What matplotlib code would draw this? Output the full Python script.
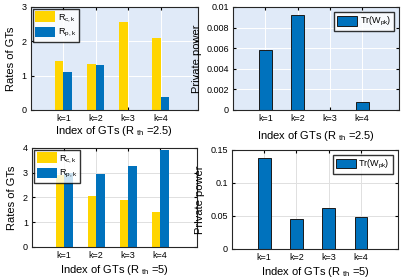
import numpy as np
import matplotlib.pyplot as plt

plt.rcParams['font.family'] = ['Liberation Sans', 'DejaVu Sans']
plt.rcParams['mathtext.default'] = 'regular'

# data
ks = [1, 2, 3, 4]
k_labels = ['k=1', 'k=2', 'k=3', 'k=4']

rc_25 = [1.43, 1.35, 2.55, 2.11]
rp_25 = [1.10, 1.30, 0.0, 0.38]
pw_25 = [0.0058, 0.0092, 0.0, 0.0008]

rc_5 = [2.9, 2.07, 1.90, 1.40]
rp_5 = [3.0, 2.95, 3.25, 3.90]
pw_5 = [0.137, 0.045, 0.062, 0.048]

yellow = '#FFD500'
blue = '#0072BD'
light_bg = '#e0eaf8'

fig = plt.figure(figsize=(4.07, 2.79), dpi=100)
ax1 = fig.add_axes([0.076, 0.606, 0.41, 0.369])
ax2 = fig.add_axes([0.573, 0.606, 0.408, 0.369])
ax3 = fig.add_axes([0.079, 0.115, 0.405, 0.355])
ax4 = fig.add_axes([0.570, 0.108, 0.408, 0.355])

x = np.array(ks)
w = 0.27


def style(ax, bg, gridc):
    ax.set_facecolor(bg)
    ax.grid(True, color=gridc, linewidth=0.7)
    ax.set_axisbelow(True)
    ax.tick_params(direction='in', length=2, labelsize=6.5, top=True, right=True, pad=3)
    ax.set_xticks(x)
    ax.set_xticklabels(k_labels)
    ax.set_xlim(0, 5.15)
    for s in ax.spines.values():
        s.set_linewidth(0.8)
        s.set_color('#262626')


def legend(ax, loc, hh, pad):
    leg = ax.legend(loc=loc, fontsize=6.5, frameon=True, fancybox=False,
                    edgecolor='black', handlelength=2.2, handleheight=hh,
                    borderaxespad=pad, labelspacing=0.3, handletextpad=0.3,
                    borderpad=0.3)
    leg.get_frame().set_linewidth(1.0)


# top-left
ax1.bar(x - w / 2, rc_25, w, color=yellow, label='R$_{c,k}$')
ax1.bar(x + w / 2, rp_25, w, color=blue, label='R$_{p,k}$')
style(ax1, light_bg, 'white')
ax1.set_ylim(0, 3)
ax1.set_yticks([0, 1, 2, 3])
ax1.set_ylabel('Rates of GTs', fontsize=8, labelpad=4)
ax1.set_xlabel('Index of GTs (R$_{\\ th}$ =2.5)', fontsize=8, labelpad=1)
legend(ax1, 'upper left', 1.4, 0.2)

# top-right
ax2.bar(x, pw_25, 0.4, color=blue, edgecolor='#1a1a1a', linewidth=0.7,
        label='Tr(W$_{pk}$)')
style(ax2, light_bg, 'white')
ax2.set_ylim(0, 0.01)
ax2.set_yticks([0, 0.002, 0.004, 0.006, 0.008, 0.01])
ax2.set_yticklabels(['0', '0.002', '0.004', '0.006', '0.008', '0.01'])
ax2.set_ylabel('Private power', fontsize=8, labelpad=3)
ax2.set_xlabel('Index of GTs (R$_{\\ th}$ =2.5)', fontsize=8, labelpad=4)
legend(ax2, 'upper right', 1.3, 0.6)

# bottom-left
ax3.bar(x - w / 2, rc_5, w, color=yellow, label='R$_{c,k}$')
ax3.bar(x + w / 2, rp_5, w, color=blue, label='R$_{p,k}$')
style(ax3, 'white', '#e0e0e0')
ax3.set_ylim(0, 4)
ax3.set_yticks([0, 1, 2, 3, 4])
ax3.set_ylabel('Rates of GTs', fontsize=8, labelpad=4)
ax3.set_xlabel('Index of GTs (R$_{\\ th}$ =5)', fontsize=8, labelpad=2)
legend(ax3, 'upper left', 1.4, 0.2)

# bottom-right
ax4.bar(x, pw_5, 0.4, color=blue, edgecolor='#1a1a1a', linewidth=0.7,
        label='Tr(W$_{pk}$)')
style(ax4, 'white', '#e0e0e0')
ax4.set_ylim(0, 0.15)
ax4.set_yticks([0, 0.05, 0.1, 0.15])
ax4.set_yticklabels(['0', '0.05', '0.1', '0.15'])
ax4.set_ylabel('Private power', fontsize=8, labelpad=4)
ax4.set_xlabel('Index of GTs (R$_{\\ th}$ =5)', fontsize=8, labelpad=2)
legend(ax4, 'upper right', 1.3, 0.6)

fig.savefig('out.png', dpi=100)
